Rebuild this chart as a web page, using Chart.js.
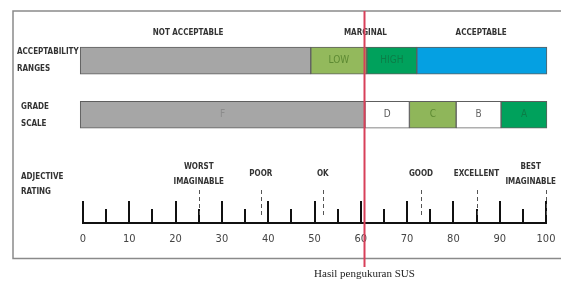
<!DOCTYPE html>
<html>
<head>
<meta charset="utf-8">
<title>SUS Score</title>
<script src="https://cdn.jsdelivr.net/npm/chart.js"></script>
<style>
  body { margin: 0; background: #fff; }
  canvas { display: block; }
</style>
</head>
<body>
<canvas id="susChart" width="561" height="281"></canvas>
<script>
// acceptability ranges
const accLabels = ['', 'LOW', 'HIGH', ''];
const accStart = [-0.6, 49.2, 61.3, 72.1];
const accEnd = [49.2, 61.3, 72.1, 100.2];

// grade scale
const gradeLabels = ['F', 'D', 'C', 'B', 'A'];
const gradeStart = [-0.6, 60.9, 70.5, 80.6, 90.3];
const gradeEnd = [60.9, 70.5, 80.6, 90.3, 100.2];

// headings above the acceptability bar
const rangeNames = ['NOT ACCEPTABLE', 'MARGINAL', 'ACCEPTABLE'];
const rangeCenters = [22.7, 61, 86];

// adjective rating markers
const adjectives = [['WORST', 'IMAGINABLE'], ['POOR'], ['OK'], ['GOOD'], ['EXCELLENT'], ['BEST', 'IMAGINABLE']];
const adjectiveValues = [25, 38.4, 51.8, 73, 85, 100];

// measured SUS result
const susScore = 60.8;
const susLabel = 'Hasil pengukuran SUS';

const narrow = "'Liberation Sans Narrow', 'DejaVu Sans Condensed', sans-serif";

const accColors = ['#a6a6a6', '#93b95c', '#00a15c', '#05a0e2'];
const accText = ['#888', '#5d8a33', '#0b7d47', '#fff'];
const gradeColors = ['#a6a6a6', '#ffffff', '#8fb65a', '#ffffff', '#00a15c'];
const gradeText = ['#8c8c8c', '#555', '#5d8a33', '#666', '#0b7d47'];

const overlay = {
  id: 'overlay',
  beforeDraw(chart) {
    const ctx = chart.ctx;
    ctx.save();
    ctx.strokeStyle = '#8a8a8a';
    ctx.lineWidth = 1.5;
    ctx.beginPath();
    ctx.moveTo(561, 11); ctx.lineTo(13, 11); ctx.lineTo(13, 258.5); ctx.lineTo(561, 258.5);
    ctx.stroke();
    ctx.restore();
  },
  afterDatasetsDraw(chart) {
    const { ctx, chartArea, scales: { x, y } } = chart;
    const row1 = y.getPixelForValue(1);
    const row2 = y.getPixelForValue(2);
    const base = chartArea.bottom;
    ctx.save();
    ctx.textAlign = 'center';
    ctx.textBaseline = 'middle';

    // bar texts
    ctx.font = '10px ' + narrow;
    accLabels.forEach((t, i) => {
      if (!t) return;
      ctx.fillStyle = accText[i];
      ctx.fillText(t, x.getPixelForValue((accStart[i] + accEnd[i]) / 2), row1);
    });
    gradeLabels.forEach((t, i) => {
      ctx.fillStyle = gradeText[i];
      ctx.fillText(t, x.getPixelForValue((gradeStart[i] + gradeEnd[i]) / 2), row2);
    });

    // headings
    ctx.font = 'bold 8px ' + narrow;
    ctx.fillStyle = '#333';
    rangeNames.forEach((t, i) => ctx.fillText(t, x.getPixelForValue(rangeCenters[i]), row1 - 28));

    // row labels
    ctx.textAlign = 'left';
    ctx.fillText('ACCEPTABILITY', 17, row1 - 9);
    ctx.fillText('RANGES', 17, row1 + 8);
    ctx.fillText('GRADE', 21, row2 - 8);
    ctx.fillText('SCALE', 21, row2 + 9);
    ctx.fillText('ADJECTIVE', 21, base - 46);
    ctx.fillText('RATING', 21, base - 31);

    // ruler ticks
    ctx.strokeStyle = '#111';
    ctx.lineWidth = 2;
    for (let v = 0; v <= 100; v += 5) {
      const px = Math.round(x.getPixelForValue(v));
      ctx.beginPath();
      ctx.moveTo(px, base);
      ctx.lineTo(px, base - (v % 10 === 0 ? 22 : 14));
      ctx.stroke();
    }

    // adjective markers
    ctx.lineWidth = 1;
    ctx.strokeStyle = '#555';
    ctx.setLineDash([4, 3]);
    adjectiveValues.forEach(v => {
      const px = Math.round(x.getPixelForValue(v)) + 0.5;
      ctx.beginPath();
      ctx.moveTo(px, base - 33);
      ctx.lineTo(px, base - 8);
      ctx.stroke();
    });
    ctx.setLineDash([]);
    ctx.textAlign = 'center';
    ctx.fillStyle = '#333';
    adjectives.forEach((lines, i) => {
      let px = x.getPixelForValue(adjectiveValues[i]);
      const w = Math.max(...lines.map(l => ctx.measureText(l).width));
      px = Math.min(px, 556 - w / 2);
      if (lines.length === 1) {
        ctx.fillText(lines[0], px, base - 49);
      } else {
        ctx.fillText(lines[0], px, base - 56);
        ctx.fillText(lines[1], px, base - 41);
      }
    });

    // SUS result line
    const sx = x.getPixelForValue(susScore);
    ctx.strokeStyle = '#d8405a';
    ctx.lineWidth = 2;
    ctx.beginPath();
    ctx.moveTo(sx, 11);
    ctx.lineTo(sx, 267);
    ctx.stroke();
    ctx.font = '11px "Liberation Serif", serif';
    ctx.fillStyle = '#222';
    ctx.fillText(susLabel, sx, 274);
    ctx.restore();
  }
};

const ctx = document.getElementById('susChart').getContext('2d');
new Chart(ctx, {
  type: 'bar',
  data: {
    datasets: [
      {
        label: 'Acceptability ranges',
        data: accStart.map((s, i) => ({ x: [s, accEnd[i]], y: 1 })),
        backgroundColor: accColors,
      },
      {
        label: 'Grade scale',
        data: gradeStart.map((s, i) => ({ x: [s, gradeEnd[i]], y: 2 })),
        backgroundColor: gradeColors,
      },
    ],
  },
  options: {
    indexAxis: 'y',
    responsive: false,
    animation: false,
    grouped: false,
    barThickness: 27,
    borderColor: '#5e5e5e',
    borderWidth: 1,
    borderSkipped: false,
    clip: false,
    layout: { padding: { left: 83, right: 15, top: 6.5, bottom: 0 } },
    plugins: { legend: { display: false }, tooltip: { enabled: false } },
    scales: {
      x: {
        type: 'linear',
        min: 0,
        max: 100,
        ticks: { stepSize: 10, padding: 10, color: '#444', font: { family: narrow, size: 11 } },
        grid: { display: false, drawTicks: false },
        border: { color: '#111', width: 2 },
        afterFit(scale) {
          scale.height = 58;
          scale.paddingLeft = 0;
          scale.paddingRight = 0;
        },
      },
      y: { type: 'linear', min: 0, max: 4, reverse: true, offset: false, display: false },
    },
  },
  plugins: [overlay],
});
</script>
</body>
</html>
